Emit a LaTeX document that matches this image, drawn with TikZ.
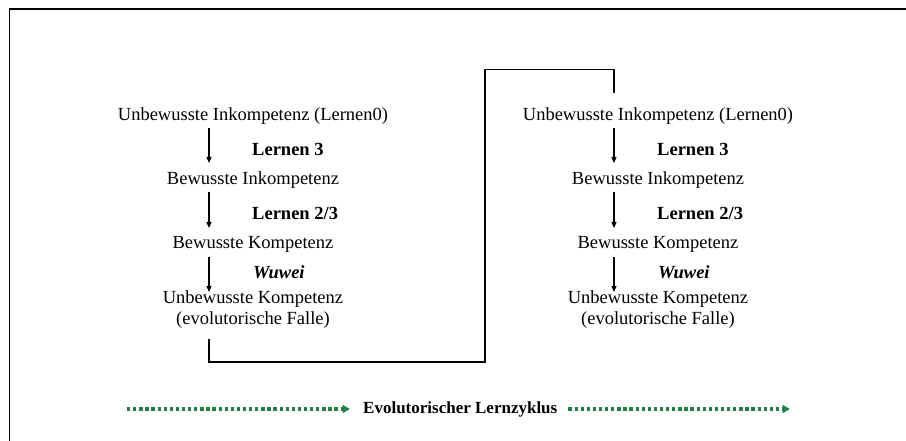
\documentclass[tikz,border=0pt]{standalone}
\usepackage{fontspec}
\setmainfont{Liberation Serif}
\usetikzlibrary{arrows.meta}
\definecolor{cyclegreen}{RGB}{30,128,66}
\begin{document}
\begin{tikzpicture}[x=1pt,y=-1pt,
  stage/.style={font=\fontsize{18.5}{20}\selectfont, inner sep=0pt, anchor=base},
  steplabel/.style={font=\fontsize{18.5}{20}\selectfont\bfseries, inner sep=0pt, anchor=base west},
  flow/.style={line width=1.1pt, -{Triangle[length=6pt,width=5pt]}},
  link/.style={line width=1.3pt},
  cycle/.style={cyclegreen, line width=3.3pt, dash pattern=on 3.3pt off 2.8pt,
    -{Triangle[length=7.5pt,width=8pt]}}]
\useasboundingbox (0,0) rectangle (906,441);
% outer frame (top and left edges)
\draw[line width=1.6pt] (9.3,441) -- (9.3,9.3) -- (906,9.3);

% one learning stage column
\foreach \p/\dx in {L/0, R/405}{
  \begin{scope}[xshift=\dx]
    \node[stage] (s1\p) at (253,121) {Unbewusste Inkompetenz (Lernen0)};
    \node[steplabel] (t1\p) at (252,156) {Lernen 3};
    \node[stage] (s2\p) at (253,185) {Bewusste Inkompetenz};
    \node[steplabel] (t2\p) at (252,220) {Lernen 2/3};
    \node[stage] (s3\p) at (253,249) {Bewusste Kompetenz};
    \node[steplabel] (t3\p) at (253,278) {\itshape Wuwei};
    \node[stage] (s4\p) at (253,303) {Unbewusste Kompetenz};
    \node[stage] (s5\p) at (253,324) {(evolutorische Falle)};
    \coordinate (a1\p) at (209,128);  \coordinate (b1\p) at (209,163);
    \coordinate (a2\p) at (209,192);  \coordinate (b2\p) at (209,228);
    \coordinate (a3\p) at (209,257);  \coordinate (b3\p) at (209,292);
    \coordinate (top\p) at (209,93);
    \coordinate (bot\p) at (209,339);
  \end{scope}
  \draw[flow] (a1\p) -- (b1\p);
  \draw[flow] (a2\p) -- (b2\p);
  \draw[flow] (a3\p) -- (b3\p);
}

% connection from the end of the first cycle to the start of the next
\coordinate (m1) at (485,362);
\coordinate (m2) at (485,69.5);
\draw[link] (botL) |- (m1) -- (m2) -| (topR);

% cycle direction
\node[font=\fontsize{17}{19}\selectfont\bfseries, inner sep=0pt, anchor=west]
  (cyc) at (363,409) {Evolutorischer Lernzyklus};
\coordinate (g1) at (127,409);
\coordinate (g2) at (790,409);
\draw[cycle] (g1) -- ([xshift=-13pt]cyc.west);
\draw[cycle] ([xshift=11pt]cyc.east) -- (g2);
\end{tikzpicture}
\end{document}
